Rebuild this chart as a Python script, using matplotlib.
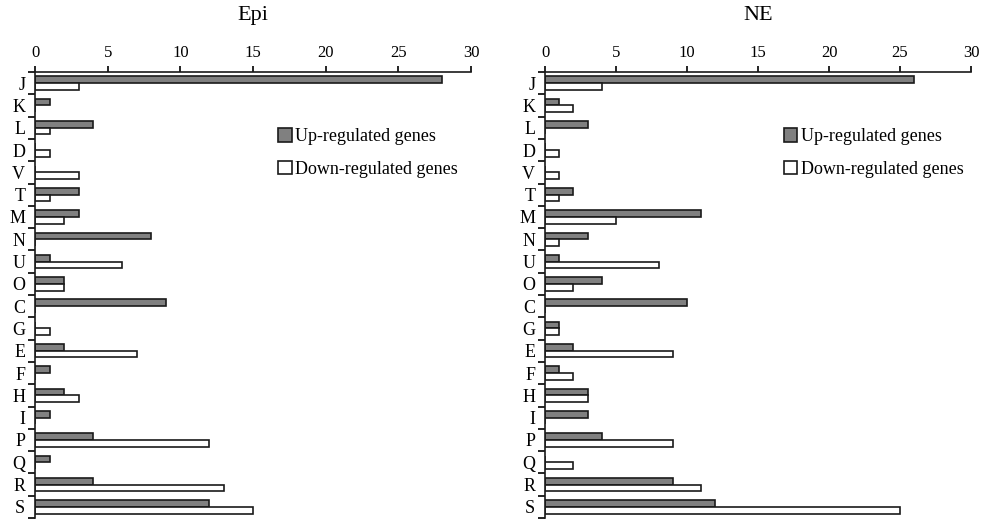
import numpy as np
import matplotlib
matplotlib.use("Agg")
import matplotlib.pyplot as plt

plt.rcParams["font.family"] = ["Liberation Serif", "DejaVu Serif"]

categories = ["J", "K", "L", "D", "V", "T", "M", "N", "U", "O",
              "C", "G", "E", "F", "H", "I", "P", "Q", "R", "S"]

epi_up = [28, 1, 4, 0, 0, 3, 3, 8, 1, 2, 9, 0, 2, 1, 2, 1, 4, 1, 4, 12]
epi_down = [3, 0, 1, 1, 3, 1, 2, 0, 6, 2, 0, 1, 7, 0, 3, 0, 12, 0, 13, 15]

ne_up = [26, 1, 3, 0, 0, 2, 11, 3, 1, 4, 10, 1, 2, 1, 3, 3, 4, 0, 9, 12]
ne_down = [4, 2, 0, 1, 1, 1, 5, 1, 8, 2, 0, 1, 9, 2, 3, 0, 9, 2, 11, 25]

panels = [("Epi", epi_up, epi_down), ("NE", ne_up, ne_down)]

fig = plt.figure(figsize=(9.84, 5.24), dpi=100)
W, H = 984, 524
lefts = [35, 545]
widths = [436, 426]
legend_x = [0.541, 0.543]
top_px, bottom_px = 72, 518

y = np.arange(len(categories))
h = 0.3

for (title, up, down), lx, wx, lgx in zip(panels, lefts, widths, legend_x):
    ax = fig.add_axes([lx / W, 1 - bottom_px / H, wx / W, (bottom_px - top_px) / H])
    ax.barh(y - h / 2, up, height=h, color="#808080", edgecolor="#1a1a1a",
            linewidth=1.2, label="Up-regulated genes")
    ax.barh(y + h / 2, down, height=h, color="white", edgecolor="#1a1a1a",
            linewidth=1.2, label="Down-regulated genes")
    ax.set_xlim(0, 30)
    ax.set_ylim(len(categories) - 0.5, -0.5)
    ax.xaxis.tick_top()
    ax.set_xticks(range(0, 31, 5))
    ax.tick_params(axis="x", labelsize=12, direction="out", length=4, width=1.2, pad=4)
    # category labels at centres, tick marks at the boundaries
    ax.set_yticks(y)
    ax.set_yticklabels(categories, fontsize=13)
    ax.tick_params(axis="y", which="major", length=0, pad=7)
    ax.set_yticks(np.arange(-0.5, len(categories), 1), minor=True)
    ax.tick_params(axis="y", which="minor", length=5, width=1.2, direction="out")
    for s in ["right", "bottom"]:
        ax.spines[s].set_visible(False)
    for s in ["top", "left"]:
        ax.spines[s].set_linewidth(1.2)
        ax.spines[s].set_color("#1a1a1a")
    ax.set_title(title, fontsize=16, y=1 + 52 / (bottom_px - top_px), pad=0)
    ax.legend(loc="upper left", bbox_to_anchor=(lgx, 0.89), frameon=False,
              fontsize=13, handlelength=0.75, handleheight=0.75,
              handletextpad=0.2, labelspacing=0.85, borderaxespad=0)

fig.savefig("out.png", dpi=100)
